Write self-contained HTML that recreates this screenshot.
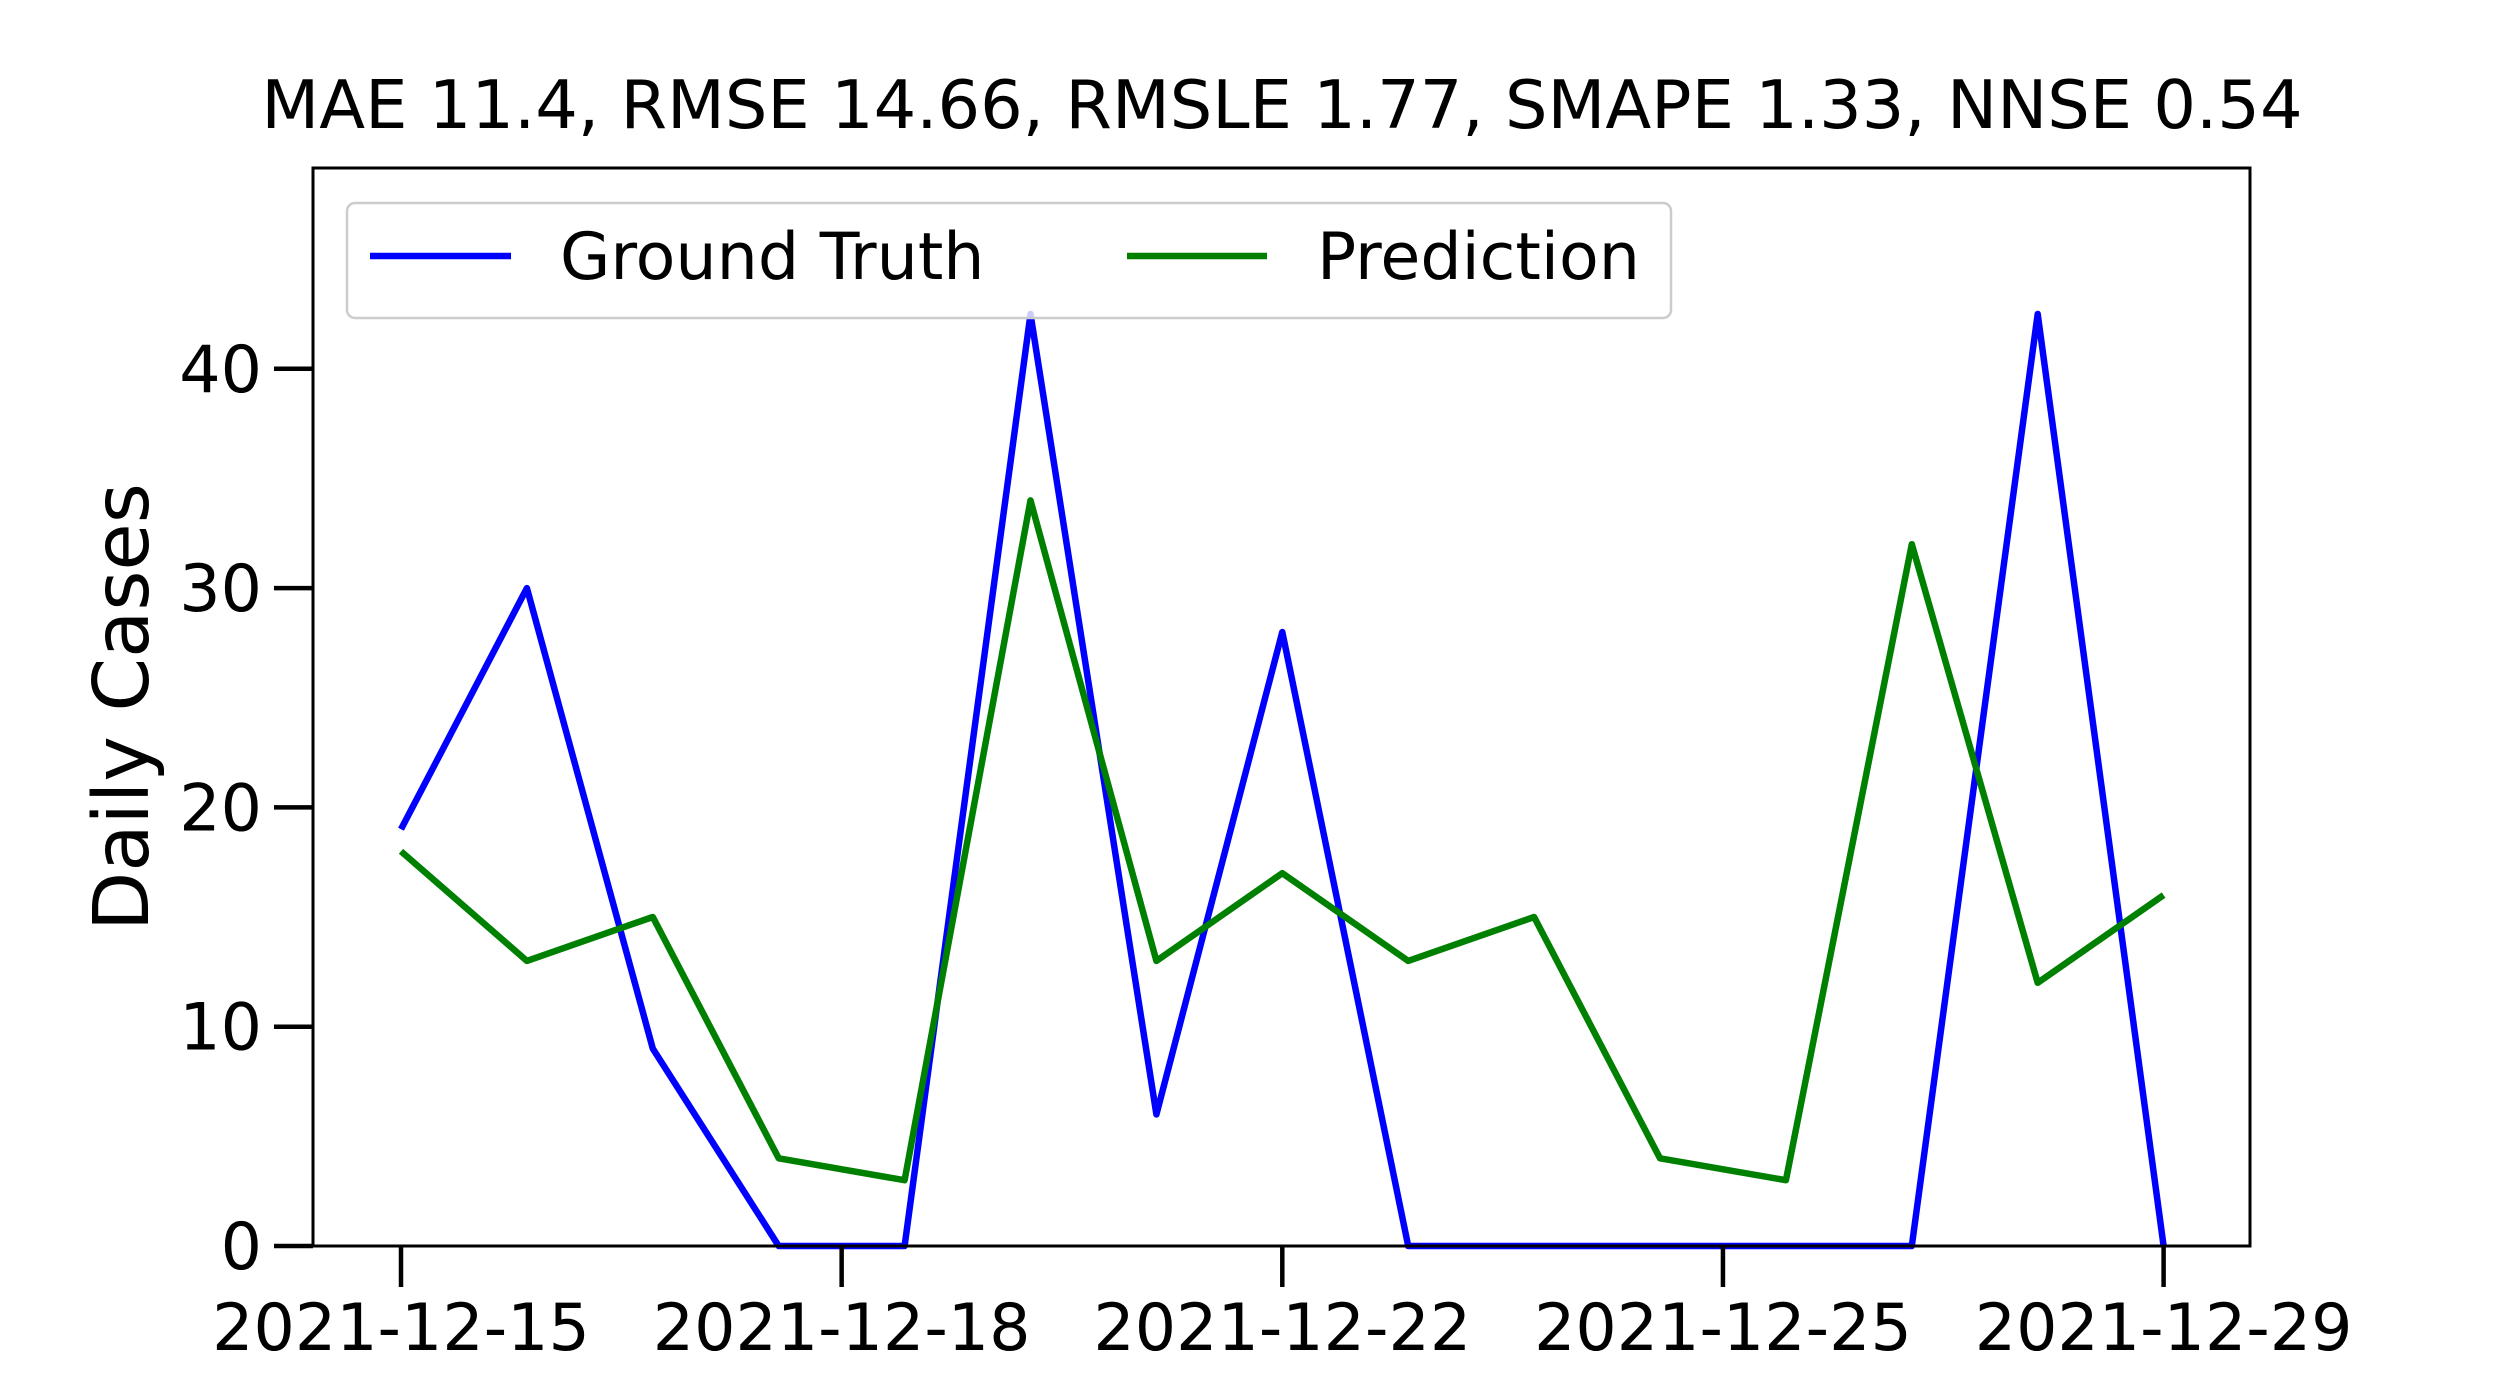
<!DOCTYPE html>
<html><head><meta charset="utf-8"><style>
html,body{margin:0;padding:0;background:#fff;}
svg{display:block;font-family:"DejaVu Sans","Liberation Sans",sans-serif;}
</style></head><body>
<svg id="chart" width="2500" height="1400" viewBox="0 0 2500 1400" xmlns="http://www.w3.org/2000/svg">
<rect width="2500" height="1400" fill="#fff"/>
<text x="1282" y="128" font-size="67" text-anchor="middle">MAE 11.4, RMSE 14.66, RMSLE 1.77, SMAPE 1.33, NNSE 0.54</text>
<text transform="translate(148,707) rotate(-90)" font-size="77" text-anchor="middle">Daily Cases</text>
<g id="series"></g>
<rect x="313" y="168" width="1937" height="1078" fill="none" stroke="#000" stroke-width="3"/>
<g id="yticks"></g>
<g id="xticks"></g>
<g>
<rect x="347" y="203" width="1324" height="115" rx="8" fill="#fff" fill-opacity="0.8" stroke="#ccc" stroke-width="2.5"/>
<line x1="370" y1="256" x2="511" y2="256" stroke="#0000ff" stroke-width="6.5"/>
<text x="560" y="279" font-size="65">Ground Truth</text>
<line x1="1127" y1="256" x2="1267" y2="256" stroke="#008000" stroke-width="6.5"/>
<text x="1317" y="279" font-size="65">Prediction</text>
</g>
</svg>
<script>
const days = [0,1,2,3,4,5,6,7,8,9,10,11,12,13,14];
const groundTruth = [19,30,9,0,0,42.5,6,28,0,0,0,0,0,42.5,0];
const prediction = [18,13,15,4,3,34,13,17,13,15,4,3,32,12,16];
const yTicks = [0,10,20,30,40];
const xTickPos = [0,3.5,7,10.5,14];
const xTickLabels = ["2021-12-15","2021-12-18","2021-12-22","2021-12-25","2021-12-29"];

const NS = "http://www.w3.org/2000/svg";
function xs(d){ return 401 + d * 125.9; }
function ys(v){ return 1246 - v * 21.93; }
function mk(tag, attrs, parent){
  const e = document.createElementNS(NS, tag);
  for (const k in attrs) e.setAttribute(k, attrs[k]);
  parent.appendChild(e);
  return e;
}
const series = document.getElementById('series');
function drawLine(vals, color, name){
  const pts = vals.map((v,i)=>xs(days[i]).toFixed(1)+","+ys(v).toFixed(1)).join(" ");
  const pl = mk('polyline', {points: pts, fill:'none', stroke: color, 'stroke-width': 6.5, 'stroke-linejoin':'round', 'stroke-linecap':'butt'}, series);
  
  
}
drawLine(groundTruth, '#0000ff', 'ground-truth-line');
drawLine(prediction, '#008000', 'prediction-line');

const yt = document.getElementById('yticks');
yTicks.forEach(v=>{
  const l = mk('line', {x1:274, x2:313, y1:ys(v), y2:ys(v), stroke:'#000', 'stroke-width':4.5}, yt);
  
  
  const t = mk('text', {x:262, y:ys(v)+23, 'font-size':65, 'text-anchor':'end'}, yt);
  t.textContent = String(v);
  
  
});
const xt = document.getElementById('xticks');
xTickPos.forEach((d,i)=>{
  const l = mk('line', {x1:xs(d), x2:xs(d), y1:1246, y2:1287, stroke:'#000', 'stroke-width':4.5}, xt);
  
  
  const t = mk('text', {x:xs(d), y:1350, 'font-size':65, 'text-anchor':'middle'}, xt);
  t.textContent = xTickLabels[i];
  
  
});
</script>
</body></html>
